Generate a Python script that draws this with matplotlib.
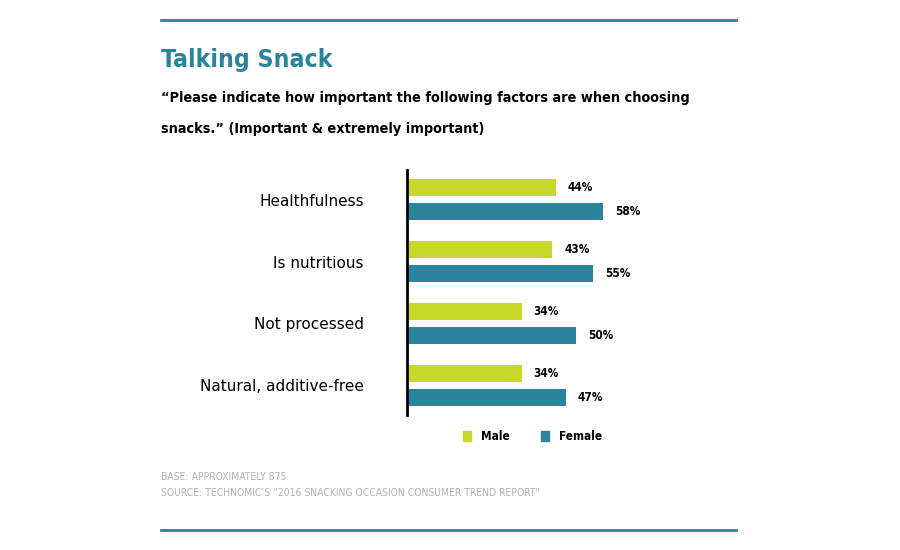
import matplotlib
matplotlib.use("Agg")
import matplotlib.pyplot as plt
import numpy as np

CATEGORIES = ["Healthfulness", "Is nutritious", "Not processed", "Natural, additive-free"]
MALE = [44, 43, 34, 34]
FEMALE = [58, 55, 50, 47]
SERIES = ["Male", "Female"]

LIME = "#c8d82b"
TEAL = "#29849c"

# no narrow face installed, the condensed DejaVu comes closest
CF = dict(family="DejaVu Sans", fontstretch="condensed")

fig = plt.figure(figsize=(9, 5.5), dpi=100)
W, H = 900, 550


def fx(px):
    return px / W


def fy(py):
    return 1 - py / H


def fit(t, width_px):
    # scale a text so that it spans the width seen in the reference
    r = fig.canvas.get_renderer()
    w = t.get_window_extent(r).width
    t.set_fontsize(t.get_fontsize() * width_px / w)


fig.add_artist(plt.Line2D([fx(161), fx(736)], [fy(20), fy(20)], color=TEAL, lw=2))
fig.add_artist(plt.Line2D([fx(161), fx(736)], [fy(530), fy(530)], color=TEAL, lw=2))

t = fig.text(fx(161), fy(60), "Talking Snack", fontsize=26, color=TEAL,
             fontweight="bold", va="center", ha="left", **CF)
fit(t, 172)
t = fig.text(fx(161), fy(98),
             "\u201cPlease indicate how important the following factors are when choosing",
             fontsize=15, fontweight="bold", va="center", ha="left", **CF)
fit(t, 531)
s1 = t.get_fontsize()
fig.text(fx(161), fy(129), "snacks.\u201d (Important & extremely important)",
         fontsize=s1, fontweight="bold", va="center", ha="left", **CF)

ax = fig.add_axes([fx(407), fy(415), fx(745 - 407), (415 - 170) / H])
y = np.arange(len(CATEGORIES))
h = 0.275
off = 0.2
ax.barh(y - off, MALE, height=h, color=LIME)
ax.barh(y + off, FEMALE, height=h, color=TEAL)
for yi, m, f in zip(y, MALE, FEMALE):
    ax.text(m + 3.5, yi - off, f"{m}%", va="center", ha="left",
            fontsize=8.5, fontweight="bold", **CF)
    ax.text(f + 3.5, yi + off, f"{f}%", va="center", ha="left",
            fontsize=8.5, fontweight="bold", **CF)
ax.set_xlim(0, 100)
ax.set_ylim(3.476, -0.476)
ax.set_yticks(y)
ax.set_yticklabels(CATEGORIES, fontsize=11)
ax.tick_params(axis="y", length=0, pad=31)
ax.set_xticks([])
for s in ["top", "right", "bottom"]:
    ax.spines[s].set_visible(False)
ax.spines["left"].set_linewidth(2)
ax.spines["left"].set_color("black")

for (x0, lab, col) in [(463, SERIES[0], LIME), (541, SERIES[1], TEAL)]:
    fig.add_artist(plt.Rectangle((fx(x0), fy(441)), fx(8), 10 / H, color=col))
    fig.text(fx(x0 + 18), fy(436), lab, fontsize=8.5,
             fontweight="bold", va="center", ha="left", **CF)

t = fig.text(fx(161), fy(477), "BASE: APPROXIMATELY 875",
             fontsize=9, color="#b0b0b0", va="center", ha="left", **CF)
t2 = fig.text(fx(161), fy(493),
              "SOURCE: TECHNOMIC\u2019S \u201c2016 SNACKING OCCASION CONSUMER TREND REPORT\u201d",
              fontsize=9, color="#b0b0b0", va="center", ha="left", **CF)
fit(t2, 384)
t.set_fontsize(t2.get_fontsize())

fig.savefig("out.png", dpi=100)
